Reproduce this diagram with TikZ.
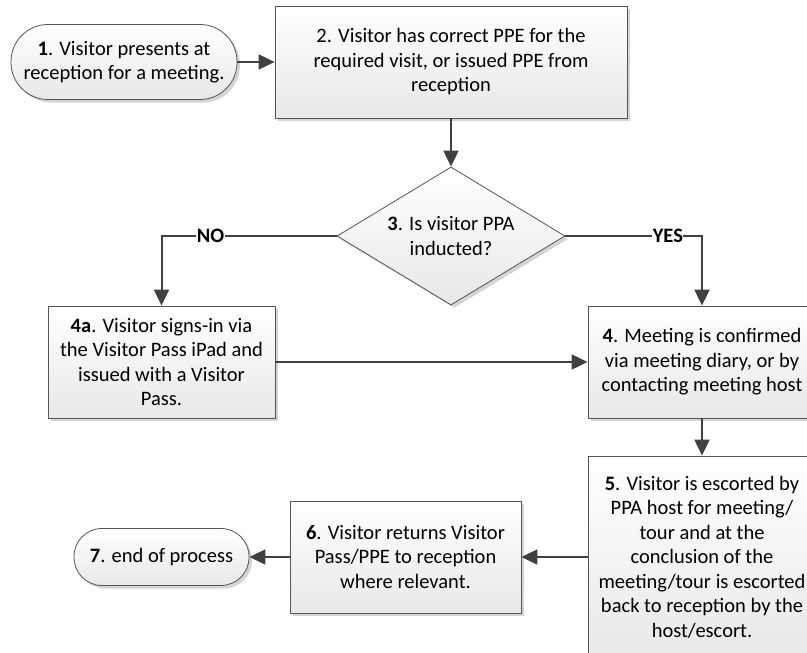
\documentclass[tikz,border=0pt]{standalone}
\usepackage{fontspec}
\setmainfont{Carlito}
\usetikzlibrary{shapes.geometric,shadows,arrows.meta}

\definecolor{flowline}{HTML}{404040}
\definecolor{boxline}{HTML}{555555}
\definecolor{shadowgray}{HTML}{D4D4D4}

\newcommand{\chartfont}{\fontsize{20.5pt}{24.5pt}\selectfont}

\tikzset{
	stepbox/.style={draw=boxline, line width=0.8pt, top color=white, bottom color=black!9,
		drop shadow={shadow xshift=3pt, shadow yshift=-3pt, fill=shadowgray, opacity=1},
		align=center, inner sep=0pt},
	terminal/.style={stepbox, rounded corners=#1},
	decision/.style={stepbox, shape=diamond, aspect=1.65, minimum width=228pt, minimum height=138pt},
	flow/.style={draw=flowline, line width=2pt, -{Triangle[length=16pt,width=15pt]}},
	answer/.style={fill=white, inner sep=0.5pt, font=\chartfont\bfseries}
}

\begin{document}
\begin{tikzpicture}[x=1pt, y=-1pt, font=\chartfont]
	\useasboundingbox (0,0) rectangle (807,653);

	% start and check of PPE
	\node[terminal=37pt, minimum width=226pt, minimum height=75pt] (arrive) at (124,62)
		{\textbf{1}. Visitor presents at\\reception for a meeting.};
	\node[stepbox, minimum width=352pt, minimum height=112pt] (ppe) at (451,62)
		{2. Visitor has correct PPE for the\\required visit, or issued PPE from\\reception};

	% induction question
	\node[decision] (induct) at (451,236) {\textbf{3}. Is visitor PPA\\inducted?};

	\node[stepbox, minimum width=227pt, minimum height=112pt] (signin) at (161.5,362)
		{\textbf{4a}. Visitor signs-in via\\the Visitor Pass iPad and\\issued with a Visitor\\Pass.};
	\node[stepbox, minimum width=228pt, minimum height=112pt] (confirm) at (702,362)
		{\textbf{4}. Meeting is confirmed\\via meeting diary, or by\\contacting meeting host};

	% escort and end
	\node[stepbox, minimum width=228pt, minimum height=202pt] (escort) at (702,557)
		{\textbf{5}. Visitor is escorted by\\PPA host for meeting/\\tour and at the\\conclusion of the\\meeting/tour is escorted\\back to reception by the\\host/escort.};
	\node[stepbox, minimum width=231pt, minimum height=112pt] (return) at (405.5,557)
		{\textbf{6}. Visitor returns Visitor\\Pass/PPE to reception\\where relevant.};
	\node[terminal=28pt, minimum width=175pt, minimum height=57pt] (finish) at (161.5,557)
		{\textbf{7}. end of process};

	\draw[flow] (arrive) -- (ppe);
	\draw[flow] (ppe) -- (induct);
	\draw[flow] (induct.west) -- node[pos=0.72, answer] {NO} (induct.west -| signin.north) -- (signin.north);
	\draw[flow] (induct.east) -- node[pos=0.75, answer] {YES} (induct.east -| confirm.north) -- (confirm.north);
	\draw[flow] (signin) -- (confirm);
	\draw[flow] (confirm) -- (escort);
	\draw[flow] (escort) -- (return);
	\draw[flow] (return) -- (finish);
\end{tikzpicture}
\end{document}
